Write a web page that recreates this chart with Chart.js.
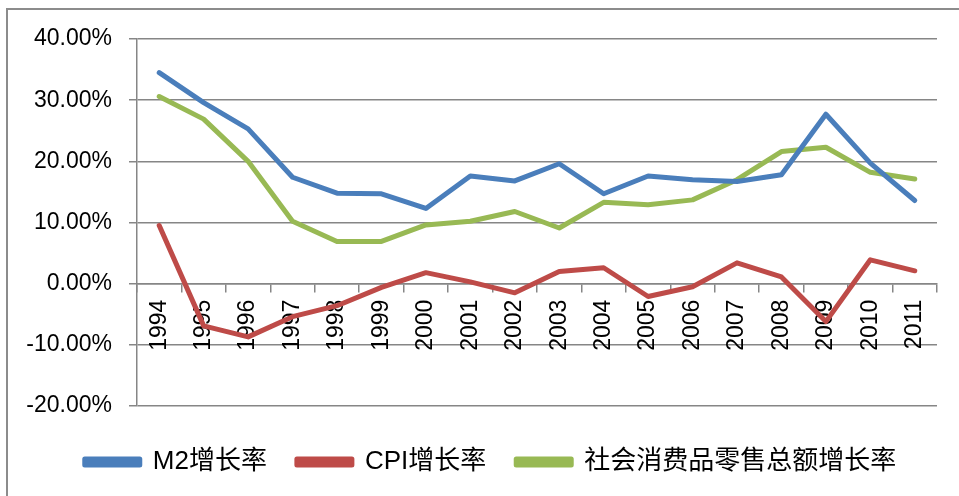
<!DOCTYPE html>
<html>
<head>
<meta charset="utf-8">
<script src="https://cdn.jsdelivr.net/npm/chart.js@4.4.1/dist/chart.umd.min.js"></script>
<style>
  html, body { margin: 0; padding: 0; background: #fff; overflow: hidden; }
  #wrap { position: relative; width: 959px; height: 496px; }
  #frame {
    position: absolute; left: 6px; top: 8px; width: 2000px; height: 2000px;
    border-left: 2px solid #8c8c8c; border-top: 2px solid #8c8c8c;
    pointer-events: none;
  }
  canvas { position: absolute; left: 0; top: 0; }
</style>
</head>
<body>
<div id="wrap">
  <canvas id="growthChart" width="959" height="496"></canvas>
  <div id="frame"></div>
</div>
<script>
const years = ["1994", "1995", "1996", "1997", "1998", "1999", "2000", "2001", "2002",
  "2003", "2004", "2005", "2006", "2007", "2008", "2009", "2010", "2011"];
const m2Growth = [34.5, 29.6, 25.3, 17.4, 14.8, 14.7, 12.3, 17.6, 16.8,
  19.6, 14.7, 17.6, 17.0, 16.7, 17.8, 27.7, 19.7, 13.6];
const cpiGrowth = [9.5, -6.9, -8.7, -5.4, -3.6, -0.6, 1.8, 0.3, -1.5,
  2.0, 2.6, -2.1, -0.5, 3.4, 1.1, -6.2, 3.9, 2.1];
const retailGrowth = [30.6, 26.9, 20.0, 10.2, 6.9, 6.9, 9.6, 10.2, 11.8,
  9.1, 13.3, 12.9, 13.7, 17.0, 21.6, 22.3, 18.2, 17.1];
const yTicks = [-20, -10, 0, 10, 20, 30, 40];

const gridGray = "#868686";
const tickFont = { family: "'Liberation Sans', Arial, sans-serif", size: 23 };

// Excel places the legend a bit lower and further right than Chart.js does
const legendNudge = {
  id: "legendNudge",
  afterLayout(chart) {
    const lg = chart.legend;
    lg.top += 13;
    lg.bottom += 13;
    lg.left += 17;
    lg.right += 17;
  },
};

function series(label, data, color) {
  return {
    label: label,
    data: data,
    borderColor: color,
    backgroundColor: color,
    borderWidth: 5,
    pointRadius: 0,
    tension: 0,
    borderJoinStyle: "round",
    borderCapStyle: "round",
  };
}

new Chart(document.getElementById("growthChart"), {
  type: "line",
  data: {
    labels: years,
    datasets: [
      series("M2增长率", m2Growth, "#4a7ebb"),
      series("CPI增长率", cpiGrowth, "#be4b48"),
      series("社会消费品零售总额增长率", retailGrowth, "#98b954"),
    ],
  },
  options: {
    responsive: false,
    animation: false,
    layout: { padding: { left: 10, right: 22, top: 39, bottom: 24 } },
    plugins: {
      tooltip: { enabled: false },
      legend: {
        position: "bottom",
        labels: {
          boxWidth: 55,
          boxHeight: 6,
          padding: 30,
          color: "#000",
          font: { family: "'Liberation Sans', 'Noto Sans CJK SC', sans-serif", size: 26 },
        },
      },
    },
    scales: {
      x: {
        position: { y: 0 },
        offset: true,
        grid: {
          offset: true,
          drawOnChartArea: false,
          tickLength: 8,
          color: gridGray,
          lineWidth: 1.5,
        },
        border: { color: gridGray, width: 1.5 },
        ticks: {
          autoSkip: false,
          minRotation: 90,
          maxRotation: 90,
          padding: 8,
          color: "#000",
          font: tickFont,
        },
      },
      y: {
        min: yTicks[0],
        max: yTicks[yTicks.length - 1],
        afterFit: (scale) => { scale.width = 127; },
        afterBuildTicks: (scale) => {
          scale.ticks = yTicks.map((v) => ({ value: v }));
        },
        grid: { color: gridGray, lineWidth: 1.5, tickLength: 8 },
        border: { color: gridGray, width: 1.5 },
        ticks: {
          padding: 17,
          color: "#000",
          font: tickFont,
          callback: (v) => v.toFixed(2) + "%",
        },
      },
    },
  },
  plugins: [legendNudge],
});
</script>
</body>
</html>
